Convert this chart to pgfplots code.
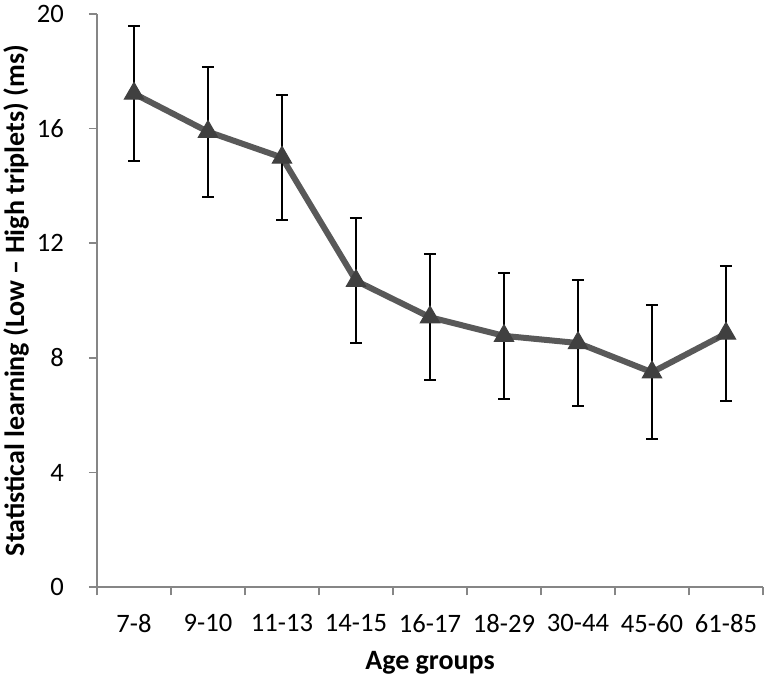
\documentclass[border=0pt]{standalone}
\usepackage{fontspec}
\setmainfont{Carlito}
\usepackage{pgfplots}
\pgfplotsset{compat=1.18}
\definecolor{axisgray}{HTML}{868686}
\definecolor{linegray}{HTML}{595959}
\definecolor{markgray}{HTML}{404040}

\begin{document}
\begin{tikzpicture}
\begin{axis}[
    width=333pt, height=286.7pt,
    scale only axis,
    font=\fontsize{13.3}{16}\selectfont,
    /pgf/number format/assume math mode=true,
    axis x line*=bottom, axis y line*=left,
    axis line style={draw=axisgray, line width=0.8pt, -},
    xmin=0.5, xmax=9.5,
    ymin=0, ymax=20,
    xtick={1,...,9},
    xticklabels={7-8,9-10,11-13,14-15,16-17,18-29,30-44,45-60,61-85},
    minor xtick={0.5,1.5,...,9.5},
    ytick={0,4,...,20},
    tick align=outside,
    major tick length=4pt,
    minor tick length=4pt,
    x tick style={draw=none},
    minor x tick style={draw=axisgray, line width=0.8pt},
    y tick style={draw=axisgray, line width=0.8pt},
    xticklabel style={yshift=-6pt},
    yticklabel style={xshift=-9pt},
    xlabel={\textbf{Age groups}},
    ylabel={\textbf{Statistical learning (Low – High triplets) (ms)}},
    label style={font=\fontsize{14}{17}\selectfont},
    xlabel style={at={(axis description cs:0.5,0)}, anchor=center, yshift=-38pt},
    ylabel style={at={(axis description cs:0,0.5)}, anchor=center, yshift=40.5pt},
    clip=false,
]
\addplot[
    color=linegray, line width=3pt,
    mark=triangle*, mark size=5.6pt,
    mark options={fill=markgray, draw=markgray, line width=0.5pt},
    error bars/.cd, y dir=both, y explicit,
    error bar style={black, line width=1pt},
    error mark options={rotate=90, mark size=3pt, black, line width=1pt},
] table[x=x, y=y, y error=e] {
x y e
1 17.22 2.35
2 15.89 2.27
3 14.99 2.18
4 10.69 2.18
5 9.42 2.19
6 8.77 2.19
7 8.52 2.19
8 7.50 2.34
9 8.85 2.35
};
\coordinate (sw) at (rel axis cs:0,0);
\end{axis}
\pgfresetboundingbox
\path (sw) ++(-48.5pt,-47.85pt) rectangle ++(383pt,341.5pt);
\end{tikzpicture}
\end{document}
